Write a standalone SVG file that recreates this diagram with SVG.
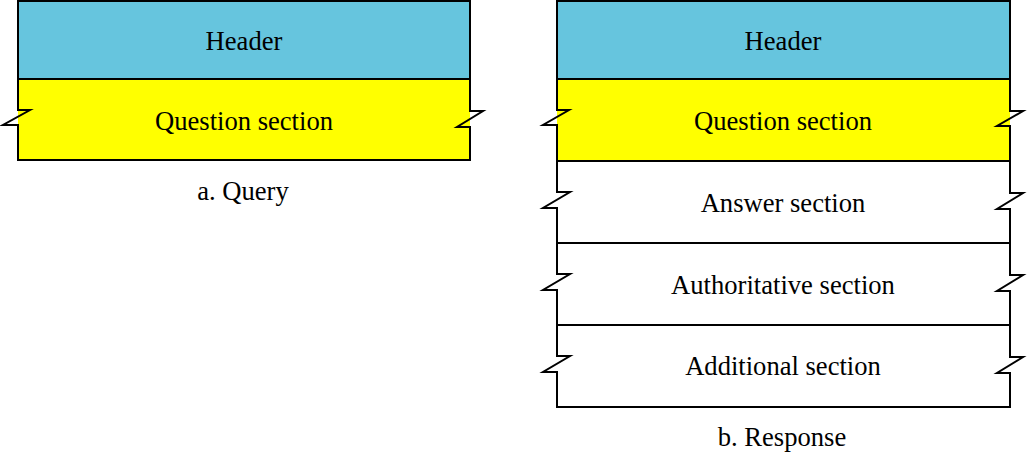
<svg xmlns="http://www.w3.org/2000/svg" width="1027" height="453" viewBox="0 0 1027 453">
<style>
.o{fill:none;stroke:#000;stroke-width:2;stroke-linejoin:miter}
.hd{fill:#66c5de}
.qs{fill:#ffff00}
text{font-family:"Liberation Serif","Times New Roman",serif;font-size:26.6px;fill:#000;text-anchor:middle}
</style>
<rect width="1027" height="453" fill="#fff"/>
<g id="query">
<g id="q-header">
<rect class="hd" x="18" y="1" width="452" height="78"/>
<path class="o" d="M18,79 V1 H470 V79"/>
<text x="244" y="50">Header</text>
</g>
<g id="q-question">
<rect class="qs" x="18" y="79" width="452" height="81"/>
<path class="o" d="M18,79 H470 V111 H483 L457,127 H470 V160 H18 V125 H3 L30,110 H18 Z"/>
<text x="244" y="130">Question section</text>
</g>
<text id="q-caption" x="243" y="200">a. Query</text>
</g>
<g id="response">
<g id="r-header">
<rect class="hd" x="557" y="1" width="453" height="78"/>
<path class="o" d="M557,79 V1 H1010 V79"/>
<text x="783" y="50">Header</text>
</g>
<g id="r-question">
<rect class="qs" x="557" y="79" width="453" height="82"/>
<path class="o" d="M557,79 H1010 V111 H1023 L997,126 H1010 V161 H557 V125 H543 L569,110 H557 Z"/>
<text x="783" y="130">Question section</text>
</g>
<g id="r-answer">
<path class="o" d="M557,161 H1010 V193 H1023 L997,209 H1010 V243 H557 V208 H543 L570,192 H557 Z"/>
<text x="783" y="212">Answer section</text>
</g>
<g id="r-authoritative">
<path class="o" d="M557,243 H1010 V275 H1023 L997,291 H1010 V325 H557 V290 H543 L570,274 H557 Z"/>
<text x="783" y="294">Authoritative section</text>
</g>
<g id="r-additional">
<path class="o" d="M557,325 H1010 V357 H1023 L997,373 H1010 V407 H557 V372 H543 L570,356 H557 Z"/>
<text x="783" y="375">Additional section</text>
</g>
<text id="r-caption" x="782" y="446">b. Response</text>
</g>
</svg>
